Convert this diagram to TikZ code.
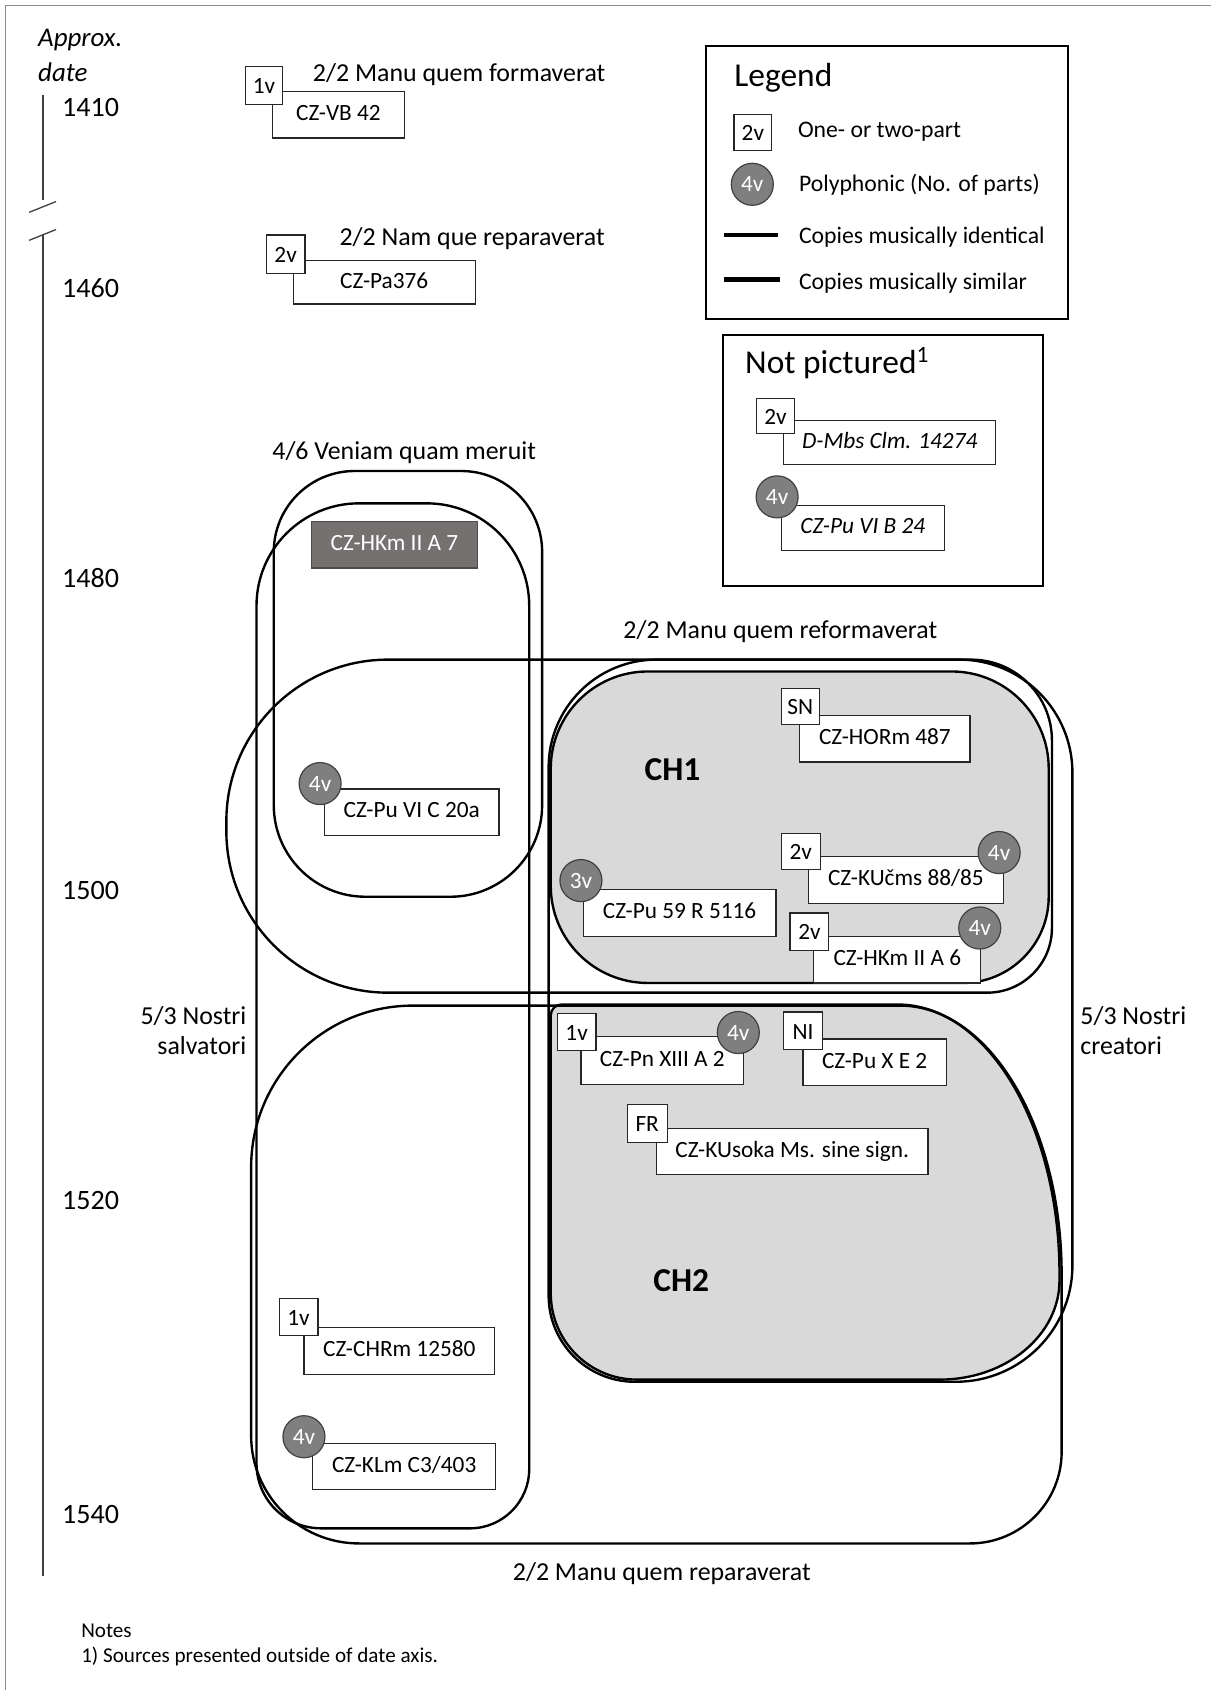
\documentclass[tikz,border=0pt]{standalone}
\usepackage{fontspec}
\setmainfont{Carlito}
\definecolor{chgray}{HTML}{D9D9D9}
\definecolor{polygray}{HTML}{7F7F7F}
\definecolor{darkbox}{HTML}{767171}
\definecolor{framegray}{HTML}{8C8C8C}
\newcommand\SB[7]{\node[#1,minimum width={(#5-#3)*0.5pt},minimum height={(#6-#4)*0.5pt}] (#2) at ({(#3+#5)/2},{(#4+#6)/2}) {#7};}
\newcommand\RR[9]{\draw[#1] ({#2+#6},#3) -- ({#4-#7},#3) .. controls ({#4-0.448*#7},#3) and (#4,{#3+0.448*#7}) .. (#4,{#3+#7}) -- (#4,{#5-#8}) .. controls (#4,{#5-0.448*#8}) and ({#4-0.448*#8},#5) .. ({#4-#8},#5) -- ({#2+#9},#5) .. controls ({#2+0.448*#9},#5) and (#2,{#5-0.448*#9}) .. (#2,{#5-#9}) -- (#2,{#3+#6}) .. controls (#2,{#3+0.448*#6}) and ({#2+0.448*#6},#3) .. ({#2+#6},#3) -- cycle;}
\tikzset{
  loopline/.style={draw=black, line width=1.1pt},
  chregion/.style={draw=black, line width=1.1pt, fill=chgray},
  srcbox/.style={draw=black!85, line width=0.55pt, fill=white, inner sep=0pt, text height=7.6pt, text depth=2.2pt, font=\fontsize{10.8}{12}\selectfont},
  srcit/.style={srcbox, font=\fontsize{10.8}{12}\selectfont\itshape},
  darksrc/.style={srcbox, fill=darkbox, draw=black!70, text=white},
  tagsq/.style={draw=black!85, line width=0.55pt, fill=white, inner sep=0pt, text height=7.6pt, text depth=0pt, font=\fontsize{10.8}{12}\selectfont},
  tagci/.style={circle, draw=black!75, line width=0.55pt, fill=polygray, text=white, inner sep=0pt, minimum size=19.5pt, font=\fontsize{10.8}{12}\selectfont},
  lbl/.style={font=\fontsize{12}{14}\selectfont, inner sep=0pt},
  yr/.style={font=\fontsize{13}{15}\selectfont, inner sep=0pt},
  legtxt/.style={font=\fontsize{11}{13}\selectfont, inner sep=0pt, anchor=west},
  heading/.style={font=\fontsize{15.5}{18}\selectfont, inner sep=0pt, anchor=west},
  chlbl/.style={font=\fontsize{15.5}{18}\selectfont\bfseries, inner sep=0pt},
  notetxt/.style={font=\fontsize{9.8}{12}\selectfont, inner sep=0pt, anchor=west},
  framebox/.style={draw=black, line width=1pt},
  legline/.style={line width=2.1pt},
}
\begin{document}
\begin{tikzpicture}[x=0.5pt,y=-0.5pt]
\useasboundingbox (0,0) rectangle (1123,1568);
% outer frame
\draw[framegray, line width=0.7pt] (5,1590) -- (5,5) -- (1140,5);
% date axis
\node[font=\fontsize{12.5}{14}\selectfont\itshape, inner sep=0pt, anchor=west] (approx) at (35,37) {Approx.};
\node[font=\fontsize{12.5}{14}\selectfont\itshape, inner sep=0pt, anchor=west] (datelbl) at (35,67) {date};
\coordinate (ax1) at (40,88);
\coordinate (ax2) at (40,186);
\coordinate (ax3) at (40,217);
\coordinate (ax4) at (40,1462);
\draw[black!75, line width=0.6pt] (ax1) -- (ax2);
\draw[black!75, line width=0.6pt] (ax3) -- (ax4);
\draw[black!75, line width=0.6pt] (27,197) -- (52,187);
\draw[black!75, line width=0.6pt] (27,223) -- (52,213);
\node[yr] (y1410) at (84,100) {1410};
\node[yr] (y1460) at (84,267) {1460};
\node[yr] (y1480) at (84,536) {1480};
\node[yr] (y1500) at (84,826) {1500};
\node[yr] (y1520) at (84,1114) {1520};
\node[yr] (y1540) at (84,1405) {1540};
% gray clusters
\RR{chregion}{511}{623}{973}{912}{90}{90}{80}{90}
\draw[chregion] (521,932) -- (833,932) .. controls (915.8,932) and (983,1044) .. (983,1182) -- (983,1188) .. controls (983,1238.8) and (933.3,1280) .. (872,1280) -- (591,1280) .. controls (546.8,1280) and (511,1244.2) .. (511,1200) -- (511,942) .. controls (511,936.5) and (515.5,932) .. (521,932) -- cycle;
% group outlines
\RR{loopline}{254}{437}{503}{832}{75}{75}{85}{85}
\RR{loopline}{238}{467}{491}{1418}{95}{95}{55}{60}
\RR{loopline}{210}{612}{976}{921}{150}{75}{60}{150}
\RR{loopline}{509}{612}{995}{1282}{100}{105}{108}{80}
\draw[loopline] (383,933) -- (835,933) .. controls (917.8,933) and (985,1045) .. (985,1183) -- (985,1347) .. controls (985,1393.9) and (946.9,1432) .. (900,1432) -- (333,1432) .. controls (277.8,1432) and (233,1387.2) .. (233,1332) -- (233,1083) .. controls (233,1000.2) and (300.2,933) .. (383,933) -- cycle;
% group labels
\node[lbl] (lformaverat) at (426,69) {2/2 Manu quem formaverat};
\node[lbl] (lnam) at (438,221) {2/2 Nam que reparaverat};
\node[lbl] (lveniam) at (375,420) {4/6 Veniam quam meruit};
\node[lbl] (lreform) at (724,586) {2/2 Manu quem reformaverat};
\node[lbl, align=right, anchor=east] (lsalv) at (229,956) {5/3 Nostri\\salvatori};
\node[lbl, align=left, anchor=west] (lcreat) at (1002,956) {5/3 Nostri\\creatori};
\node[lbl] (lrepar) at (614,1460) {2/2 Manu quem reparaverat};
\node[chlbl] (ch1) at (624,714) {CH1};
\node[chlbl] (ch2) at (632,1188) {CH2};
% sources
\SB{srcbox}{vb}{253}{85}{375}{128}{CZ-VB 42}
\SB{tagsq}{vbt}{228}{62}{262}{97}{1v}
\SB{srcbox}{pa}{272}{242}{441}{282}{CZ-Pa376}
\SB{tagsq}{pat}{247}{218}{283}{254}{2v}
\SB{darksrc}{hk7}{289}{484}{443}{527}{CZ-HKm II A 7}
\SB{srcbox}{pu20}{301}{732}{463}{775}{CZ-Pu VI C 20a}
\node[tagci] (pu20t) at (297,727) {4v};
\SB{srcbox}{hor}{742}{664}{900}{707}{CZ-HORm 487}
\SB{tagsq}{hort}{725}{639}{760}{672}{SN}
\SB{srcbox}{kuc}{750}{795}{931}{838}{CZ-KUčms 88/85}
\SB{tagsq}{kuct}{725}{773}{761}{807}{2v}
\node[tagci] (kucc) at (927,791) {4v};
\SB{srcbox}{pu59}{541}{825}{720}{869}{CZ-Pu 59 R 5116}
\node[tagci] (pu59t) at (539,817) {3v};
\SB{srcbox}{hk6}{755}{869}{910}{912}{CZ-HKm II A 6}
\SB{tagsq}{hk6t}{733}{847}{769}{882}{2v}
\node[tagci] (hk6c) at (909,861) {4v};
\SB{srcbox}{pn}{539}{962}{690}{1006}{CZ-Pn XIII A 2}
\SB{tagsq}{pnt}{517}{940}{553}{975}{1v}
\node[tagci] (pnc) at (685,958) {4v};
\SB{srcbox}{pux}{745}{964}{878}{1007}{CZ-Pu X E 2}
\SB{tagsq}{puxt}{727}{939}{763}{974}{NI}
\SB{srcbox}{kus}{609}{1047}{861}{1090}{CZ-KUsoka Ms. sine sign.}
\SB{tagsq}{kust}{582}{1025}{619}{1060}{FR}
\SB{srcbox}{chr}{282}{1232}{459}{1275}{CZ-CHRm 12580}
\SB{tagsq}{chrt}{259}{1205}{295}{1239}{1v}
\SB{srcbox}{klm}{290}{1339}{460}{1382}{CZ-KLm C3/403}
\node[tagci] (klmt) at (282,1333) {4v};
% legend
\SB{framebox}{legend}{655}{43}{991}{296}{}
\node[heading] (leghead) at (681,72) {Legend};
\SB{tagsq}{leg2v}{681}{106}{716}{140}{2v}
\node[legtxt] (legone) at (740,122) {One- or two-part};
\node[tagci] (leg4v) at (698,171) {4v};
\node[legtxt] (legpoly) at (741,171) {Polyphonic (No. of parts)};
\coordinate (li1a) at (672,218);
\coordinate (li1b) at (722,218);
\coordinate (li2a) at (672,259);
\coordinate (li2b) at (724,259);
\draw[legline] (li1a) -- (li1b);
\draw[legline, line width=2.4pt] (li2a) -- (li2b);
\node[legtxt] (legid) at (741,220) {Copies musically identical};
\node[legtxt] (legsim) at (741,263) {Copies musically similar};
% not pictured
\SB{framebox}{notpic}{671}{311}{968}{544}{}
\node[heading] (nphead) at (691,337) {Not pictured\textsuperscript{1}};
\SB{srcit}{dmbs}{727}{390}{924}{431}{D-Mbs Clm. 14274}
\SB{tagsq}{dmbst}{702}{370}{737}{402}{2v}
\SB{srcit}{pub}{725}{469}{876}{511}{CZ-Pu VI B 24}
\node[tagci] (pubt) at (721,461) {4v};
% notes
\node[notetxt] (notes) at (75,1513) {Notes};
\node[notetxt] (note1) at (75,1537) {1) Sources presented outside of date axis.};
\end{tikzpicture}
\end{document}
